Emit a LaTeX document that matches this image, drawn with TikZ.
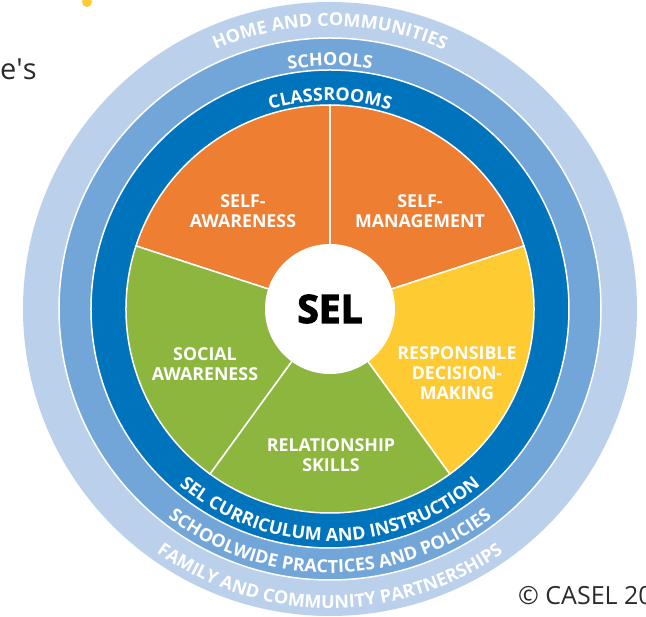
\documentclass[tikz,border=0pt]{standalone}
\usepackage{fontspec}
\setmainfont{Open Sans}
\usepackage{xcolor}
\usetikzlibrary{decorations.text}
\definecolor{homeblue}{HTML}{BBD0EB}
\definecolor{schoolblue}{HTML}{72A5D8}
\definecolor{classblue}{HTML}{0073BD}
\definecolor{selforange}{HTML}{EE7E32}
\definecolor{selfgreen}{HTML}{8DB63F}
\definecolor{decyellow}{HTML}{FFCB32}
\definecolor{inkgrey}{HTML}{2B2B2B}
\newcommand{\ringfont}{\color{white}\bfseries\fontsize{18}{20}\selectfont}
\newfontface\selheavy{Open Sans Bold}[FakeBold=3]

\begin{document}
\begin{tikzpicture}[x=1pt, y=1pt,
    sep/.style={draw=white, line width=1.5pt},
    wedgelabel/.style={text=white, font=\bfseries\fontsize{17.8}{20}\selectfont, align=center, inner sep=0},
    ringtext/.style={decorate, decoration={text along path, text align=center, text={|\ringfont|#1}}}]
            \useasboundingbox (-330,-308) rectangle (316,309);
            \fill[homeblue] (0,0) circle[radius=307];
            \filldraw[fill=schoolblue, sep] (0,0) circle[radius=271];
            \filldraw[fill=classblue, sep] (0,0) circle[radius=239];
            \foreach \a/\b/\c in {18/90/selforange, 90/162/selforange, 162/234/selfgreen, 234/306/selfgreen, 306/378/decyellow}
                \filldraw[fill=\c, sep] (0,0) -- (\a:204) arc[start angle=\a, end angle=\b, radius=204] -- cycle;
            \node[circle, fill=white, minimum size=130pt, inner sep=0, font=\selheavy\fontsize{39}{40}\selectfont] (sel) at (0,0) {SEL};
            \node[wedgelabel] (aware) at (-87,98) {SELF-\\AWARENESS};
            \node[wedgelabel] (manage) at (90,98) {SELF-\\MANAGEMENT};
            \node[wedgelabel] (decide) at (127,-64) {RESPONSIBLE\\DECISION-\\MAKING};
            \node[wedgelabel] (social) at (-125,-55) {SOCIAL\\AWARENESS};
            \node[wedgelabel] (relate) at (1,-146) {RELATIONSHIP\\SKILLS};
            \path[ringtext={HOME AND COMMUNITIES}] (150:283) arc[start angle=150, end angle=30, radius=283];
            \path[ringtext={SCHOOLS}] (150:243) arc[start angle=150, end angle=30, radius=243];
            \path[ringtext={CLASSROOMS}] (150:208) arc[start angle=150, end angle=30, radius=208];
            \path[ringtext={SEL CURRICULUM AND INSTRUCTION}] (200:232) arc[start angle=200, end angle=340, radius=232];
            \path[ringtext={SCHOOLWIDE PRACTICES AND POLICIES}] (200:264) arc[start angle=200, end angle=340, radius=264];
            \path[ringtext={FAMILY AND COMMUNITY PARTNERSHIPS}] (200:299) arc[start angle=200, end angle=340, radius=299];
            \node[anchor=base west, inner sep=0, text=inkgrey, font=\fontsize{29}{30}\selectfont] (cut) at (-330,229) {e\textquotesingle s};
            \node[anchor=base west, inner sep=0, text=inkgrey, font=\fontsize{25}{30}\selectfont] (copy) at (188,-296) {© CASEL 20};
            \fill[decyellow] (-243,307) circle[radius=5];
        \end{tikzpicture}
\end{document}
